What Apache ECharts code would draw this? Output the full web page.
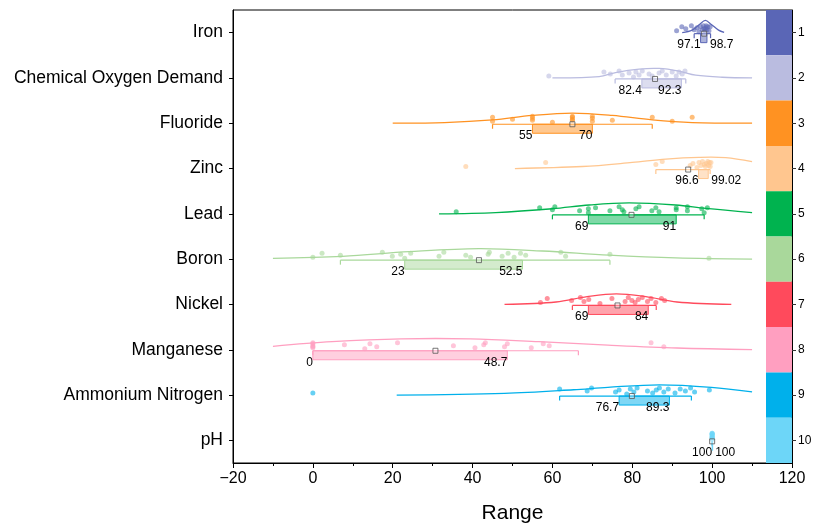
<!DOCTYPE html>
<html>
<head>
<meta charset="utf-8">
<script src="https://cdn.jsdelivr.net/npm/echarts@6/dist/echarts.min.js"></script>
<style>
  html, body { margin: 0; padding: 0; background: #fff; }
  #chart { width: 819px; height: 529px; }
</style>
</head>
<body>
<div id="chart"></div>
<script>
var categories = ["Iron", "Chemical Oxygen Demand", "Fluoride", "Zinc", "Lead", "Boron", "Nickel", "Manganese", "Ammonium Nitrogen", "pH"];
var barLabels = ["1", "2", "3", "4", "5", "6", "7", "8", "9", "10"];
var colors = ["#5a66b6", "#babce0", "#ff9222", "#ffc68f", "#00b34f", "#a9d89b", "#ff4a5c", "#ff9fc0", "#00b0eb", "#6dd6f8"];

// box statistics
var q1 = [97.1, 82.4, 55, 96.6, 69, 23, 69, 0, 76.7, 100];
var q3 = [98.7, 92.3, 70, 99.02, 91, 52.5, 84, 48.7, 89.3, 100];
var whiskerLow = [95.5, 75.7, 45, 85.9, 60, 6.9, 65, 0, 61.8, 100];
var whiskerHigh = [99.6, 93.4, 85, 99.5, 98, 74.4, 86, 66.5, 94.8, 100];
var means = [98, 85.7, 65, 94, 79.8, 41.6, 76.3, 30.7, 79.9, 100];

// raw points
var ptsIron = [91.1, 92.4, 93.4, 94.8, 95.5, 96.2, 96.7, 97.1, 97.5, 97.8, 98, 98.2, 98.4, 98.5, 98.7, 98.9, 99.2, 99.5];
var ptsCod = [59.1, 72.9, 74.5, 76.7, 77.5, 79.2, 80.3, 80.9, 81.7, 82.5, 84.2, 85, 86.7, 87.5, 88.5, 90, 91, 91.7, 92.5, 93.2];
var ptsFluoride = [45, 45, 50, 55, 55, 55, 60, 65, 65, 65, 65, 70, 70, 70, 75, 85, 90, 95];
var ptsZinc = [38.3, 58.3, 85.9, 87.5, 94.5, 95.2, 96.2, 96.7, 97.2, 97.6, 98, 98.3, 98.6, 98.9, 99.1, 99.3, 99.5, 99.7];
var ptsLead = [35.9, 56.8, 60, 60.6, 66.8, 69, 69, 70.8, 74.4, 76.7, 77.5, 77.9, 80.9, 81.7, 84.9, 85.9, 86.7, 91, 91, 93.8, 93.8, 97.4, 98, 98.8];
var ptsBoron = [0, 2.3, 6.9, 17.4, 19.9, 22, 23, 24.5, 31.6, 32.8, 38.3, 39.5, 43.9, 44.2, 47.4, 48.9, 50.4, 52, 53.3, 62.1, 63.3, 74.4, 99.2];
var ptsNickel = [57, 58.7, 64.8, 67, 67.9, 69.1, 71.9, 74.9, 78.2, 79, 79.9, 80.7, 81.5, 82.5, 83.8, 84.7, 85.9, 87.3, 88.1];
var ptsManganese = [0, 0, 0, 0, 0, 7.9, 13, 14.3, 16, 21.2, 35.2, 40.6, 42.8, 43.2, 48, 48.7, 54.7, 57.7, 59.2, 84.7, 87.9];
var ptsAmmonium = [0, 61.8, 68.7, 69.8, 75.8, 76.7, 78.6, 79.5, 80.4, 81.2, 83.8, 85.1, 86, 86.8, 87.9, 89, 90.7, 92, 93.3, 94.6, 95.6, 99.3];
var ptsPh = [100, 100, 100, 100, 100, 100, 100, 100, 100, 100];

// distribution curves [value, relative density]
var curveIron = [[92.5, 0], [95, 0.25], [96.8, 0.8], [98.3, 1.2], [99.8, 0.8], [101.6, 0.25], [103, 0.02]];
var curveCod = [[60, 0.01], [71.7, 0.13], [75.8, 0.53], [81.7, 0.87], [86.7, 0.93], [91.7, 0.67], [95.9, 0.27], [102.5, 0.07], [110, 0.01]];
var curveFluoride = [[20, 0.02], [33, 0.07], [45, 0.33], [55, 0.77], [65, 1.0], [75, 0.77], [85, 0.33], [95, 0.07], [110, 0.01]];
var curveZinc = [[50.6, 0], [67.5, 0.2], [80, 0.6], [88.4, 0.93], [96.7, 1.1], [103.4, 1.07], [110, 0.67]];
var curveLead = [[31.6, 0], [45.8, 0.13], [60, 0.5], [69.2, 0.87], [79.2, 1.07], [90.9, 0.87], [98.4, 0.53], [110, 0.13]];
var curveBoron = [[-10, 0.07], [7.4, 0.27], [24.1, 0.73], [41.6, 1.03], [57.5, 0.8], [74.2, 0.4], [90.9, 0.13], [110, 0.01]];
var curveNickel = [[48, 0], [60.9, 0.24], [68.7, 0.76], [76, 1.03], [83.4, 0.76], [91.2, 0.24], [104.8, 0]];
var curveManganese = [[-10, 0.34], [4.8, 0.79], [22.1, 1.07], [39.4, 1.07], [56.6, 0.79], [73.9, 0.45], [91.2, 0.17], [110, 0.02]];
var curveAmmonium = [[21, 0], [48, 0.17], [65.3, 0.52], [73.9, 0.76], [86.8, 1.0], [99.8, 0.76], [110, 0.31]];
var curvePh = [];

var pointSets = [ptsIron, ptsCod, ptsFluoride, ptsZinc, ptsLead, ptsBoron, ptsNickel, ptsManganese, ptsAmmonium, ptsPh];
var curves = [curveIron, curveCod, curveFluoride, curveZinc, curveLead, curveBoron, curveNickel, curveManganese, curveAmmonium, curvePh];

var jitter = [1, 5, 3, 6, 2, 4, 0, 5, 2, 6, 3, 1, 4, 6, 2, 5];
var font = "'Liberation Sans', Arial, sans-serif";

var myChart = echarts.init(document.getElementById("chart"));

var series = [];

// colour bar on the right
series.push({
  type: "custom",
  z: 1,
  silent: true,
  data: categories.map(function (c, i) { return [0, i]; }),
  renderItem: function (params, api) {
    var i = api.value(1);
    var cs = params.coordSys;
    var yc = api.coord([0, i])[1];
    var bw = api.size([0, 1])[1];
    return {
      type: "rect",
      shape: { x: cs.x + cs.width - 26, y: yc - bw / 2, width: 26, height: bw },
      style: { fill: colors[i] }
    };
  }
});

// distribution curves
series.push({
  type: "custom",
  z: 3,
  silent: true,
  data: categories.map(function (c, i) { return [0, i]; }),
  renderItem: function (params, api) {
    var i = api.value(1);
    var pts = curves[i];
    if (!pts.length) return;
    var bw = api.size([0, 1])[1];
    var h = bw * 0.225;
    var line = pts.map(function (d) {
      var p = api.coord([d[0], i]);
      return [p[0], p[1] - d[1] * h];
    });
    return {
      type: "polyline",
      shape: { points: line, smooth: 0.35 },
      style: { stroke: colors[i], lineWidth: 1.3, fill: null }
    };
  }
});

// jittered points
pointSets.forEach(function (pts, i) {
  series.push({
    type: "scatter",
    z: 2,
    symbolSize: 5,
    itemStyle: { color: colors[i], opacity: 0.6 },
    data: pts.map(function (v, k) {
      return { value: [v, i], symbolOffset: [0, -(1 + jitter[k % jitter.length])] };
    })
  });
});

// box + whiskers + mean + quartile labels
series.push({
  type: "custom",
  z: 4,
  silent: true,
  encode: { x: [1, 2, 3, 4, 5], y: 0 },
  data: categories.map(function (c, i) {
    return [i, whiskerLow[i], q1[i], q3[i], whiskerHigh[i], means[i]];
  }),
  renderItem: function (params, api) {
    var i = api.value(0);
    var yc = api.coord([0, i])[1];
    var xw1 = api.coord([api.value(1), i])[0];
    var xq1 = api.coord([api.value(2), i])[0];
    var xq3 = api.coord([api.value(3), i])[0];
    var xw2 = api.coord([api.value(4), i])[0];
    var xm = api.coord([api.value(5), i])[0];
    var col = colors[i];
    var top = yc + 1, bot = yc + 10, cap = yc + 5.5;
    var lineStyle = { stroke: col, lineWidth: 1.2 };
    var narrow = (xq3 - xq1) < 30;
    return {
      type: "group",
      children: [
        { type: "line", shape: { x1: xw1, y1: top, x2: xw2, y2: top }, style: lineStyle },
        { type: "line", shape: { x1: xw1, y1: top, x2: xw1, y2: cap }, style: lineStyle },
        { type: "line", shape: { x1: xw2, y1: top, x2: xw2, y2: cap }, style: lineStyle },
        {
          type: "rect",
          shape: { x: xq1, y: top, width: Math.max(xq3 - xq1, 0.5), height: bot - top },
          style: { fill: echarts.color.modifyAlpha(col, 0.5), stroke: col, lineWidth: 1 }
        },
        {
          type: "rect",
          shape: { x: xm - 2.5, y: top - 2.5, width: 5, height: 5 },
          style: { fill: "rgba(255,255,255,0.3)", stroke: "#555", lineWidth: 0.8 }
        },
        {
          type: "text",
          style: {
            x: xq1, y: yc + 12.5, text: String(q1[i]), align: "right", verticalAlign: "middle",
            font: "12px " + font, fill: "#000"
          }
        },
        {
          type: "text",
          style: {
            x: narrow ? xq3 + 3 : xq3, y: yc + 12.5, text: String(q3[i]),
            align: narrow ? "left" : "right", verticalAlign: "middle",
            font: "12px " + font, fill: "#000"
          }
        }
      ]
    };
  }
});

var option = {
  animation: false,
  backgroundColor: "#fff",
  textStyle: { fontFamily: font },
  grid: { left: 233, right: 27, top: 10, bottom: 66, show: true, borderColor: "#000", borderWidth: 1 },
  xAxis: {
    type: "value",
    min: -20,
    max: 120,
    interval: 20,
    axisLine: { show: true, onZero: false, lineStyle: { color: "#000", width: 1 } },
    axisTick: { show: true, inside: false, length: 5, lineStyle: { color: "#000" } },
    minorTick: { show: true, splitNumber: 2, length: 3, lineStyle: { color: "#000" } },
    splitLine: { show: false },
    axisLabel: {
      fontSize: 16, color: "#000", margin: 8, fontFamily: font,
      formatter: function (v) { return String(v).replace("-", "\u2212"); }
    },
    name: "Range",
    nameLocation: "middle",
    nameGap: 40,
    nameTextStyle: { fontSize: 21, color: "#000", fontFamily: font }
  },
  yAxis: [
    {
      type: "category",
      data: categories,
      inverse: true,
      axisLine: { show: true, onZero: false, lineStyle: { color: "#000", width: 1 } },
      axisTick: { show: true, alignWithLabel: true, length: 4, lineStyle: { color: "#000" } },
      axisLabel: { fontSize: 17.5, color: "#000", margin: 10, fontFamily: font },
      splitLine: { show: false }
    },
    {
      type: "category",
      data: barLabels,
      inverse: true,
      position: "right",
      axisLine: { show: true, onZero: false, lineStyle: { color: "#000", width: 1 } },
      axisTick: { show: true, alignWithLabel: true, length: 4, lineStyle: { color: "#333" } },
      axisLabel: { fontSize: 12, color: "#000", margin: 6, fontFamily: font },
      splitLine: { show: false }
    }
  ],
  series: series
};

myChart.setOption(option);
</script>
</body>
</html>
